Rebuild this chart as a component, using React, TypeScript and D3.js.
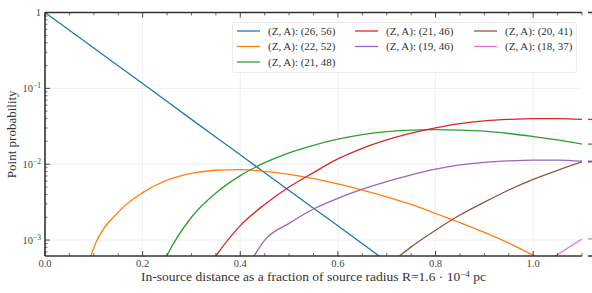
import React from "react";
import * as d3 from "d3";

const W = 592;
const H = 293;
const left = 45;
const right = 582;
const top = 12.5;
const bottom = 256;

// x positions (fraction of source radius) and point probabilities
const dist26_56 = [0, 0.1, 0.2, 0.3, 0.4, 0.5, 0.6, 0.7];
const prob26_56 = [1.0, 0.34, 0.116, 0.039, 0.0133, 0.0045, 0.00154, 0.00052];

const dist22_52 = [0.075, 0.1, 0.15, 0.2, 0.25, 0.3, 0.35, 0.4, 0.45, 0.5, 0.55, 0.6, 0.65, 0.7, 0.75, 0.8, 0.85, 0.9, 0.95, 1.0, 1.05];
const prob22_52 = [0.000251, 0.000794, 0.00234, 0.00422, 0.00617, 0.00759, 0.00832, 0.00851, 0.00804, 0.00733, 0.00646, 0.0055, 0.00457, 0.00372, 0.00295, 0.00224, 0.0017, 0.00126, 0.000912, 0.000631, 0.000427];

const dist21_48 = [0.225, 0.25, 0.3, 0.35, 0.4, 0.45, 0.5, 0.55, 0.6, 0.65, 0.7, 0.75, 0.8, 0.85, 0.9, 0.95, 1.0, 1.05, 1.1];
const prob21_48 = [0.000282, 0.000631, 0.002, 0.00417, 0.00708, 0.01047, 0.01413, 0.01778, 0.02138, 0.02455, 0.02692, 0.02818, 0.02851, 0.02818, 0.02723, 0.02541, 0.02317, 0.02089, 0.01841];

const dist21_46 = [0.325, 0.35, 0.4, 0.45, 0.5, 0.55, 0.6, 0.65, 0.7, 0.75, 0.8, 0.85, 0.9, 0.95, 1.0, 1.05, 1.1];
const prob21_46 = [0.000355, 0.000617, 0.00155, 0.00295, 0.00501, 0.00776, 0.01175, 0.0162, 0.0209, 0.0257, 0.0302, 0.0343, 0.0372, 0.0389, 0.0398, 0.0398, 0.0389];

const dist19_46 = [0.4, 0.45, 0.5, 0.55, 0.6, 0.65, 0.7, 0.75, 0.8, 0.85, 0.9, 0.95, 1.0, 1.05, 1.1];
const prob19_46 = [0.000282, 0.001, 0.00166, 0.00257, 0.00355, 0.00468, 0.00589, 0.00724, 0.00861, 0.00977, 0.01059, 0.01109, 0.01135, 0.01135, 0.01096];

const dist20_41 = [0.7, 0.75, 0.8, 0.85, 0.9, 0.95, 1.0, 1.05, 1.1];
const prob20_41 = [0.000447, 0.000813, 0.00135, 0.00214, 0.00316, 0.00457, 0.00631, 0.00832, 0.01072];

const dist18_37 = [1.0, 1.05, 1.1];
const prob18_37 = [0.000398, 0.000646, 0.001035];

const labels = [
  "(Z, A): (26, 56)",
  "(Z, A): (22, 52)",
  "(Z, A): (21, 48)",
  "(Z, A): (21, 46)",
  "(Z, A): (19, 46)",
  "(Z, A): (20, 41)",
  "(Z, A): (18, 37)",
];
const colors = ["#1f77b4", "#ff7f0e", "#2ca02c", "#d62728", "#9467bd", "#8c564b", "#e377c2"];
const dists = [dist26_56, dist22_52, dist21_48, dist21_46, dist19_46, dist20_41, dist18_37];
const probs = [prob26_56, prob22_52, prob21_48, prob21_46, prob19_46, prob20_41, prob18_37];

const xTicks = [0, 0.2, 0.4, 0.6, 0.8, 1.0];
const xTickLabels = ["0.0", "0.2", "0.4", "0.6", "0.8", "1.0"];
const yTicks = [1, 0.1, 0.01, 0.001];
const yTickExps = ["", "−1", "−2", "−3"];

const font = "'Liberation Serif', 'DejaVu Serif', serif";
const axisColor = "#333";

// legend is filled column by column: 3 + 2 + 2
const legendCol = [0, 0, 0, 1, 1, 2, 2];
const legendRow = [0, 1, 2, 0, 1, 0, 1];

export default function App() {
  const x = d3.scaleLinear().domain([0, 1.1]).range([left, right]);
  const y = d3.scaleLog().domain([Math.pow(10, -3.21), 1]).range([bottom, top]);

  const line = d3
    .line<[number, number]>()
    .x((d) => x(d[0]))
    .y((d) => y(d[1]))
    .curve(d3.curveMonotoneX);

  const xMinor = d3.range(0, 1.1001, 0.05).filter((v) => xTicks.every((t) => Math.abs(t - v) > 1e-6));
  const yMinor: number[] = [];
  [0.0001, 0.001, 0.01, 0.1].forEach((dec) => {
    for (let k = 2; k <= 9; k++) {
      const v = dec * k;
      if (v >= Math.pow(10, -3.21) && v <= 1) yMinor.push(v);
    }
  });

  const legendX = [237, 355, 474];
  const legendY = [31, 46.5, 62];

  return (
    <svg width={W} height={H} style={{ position: "absolute", left: 0, top: 0 }} fontFamily={font}>
      <defs>
        <clipPath id="plot">
          <rect x={left} y={top} width={right - left} height={bottom - top} />
        </clipPath>
      </defs>
      <rect width={W} height={H} fill="#fff" />

      {/* grid */}
      {xTicks.slice(1).map((t) => (
        <line key={"gx" + t} x1={x(t)} x2={x(t)} y1={top} y2={bottom} stroke="#ebebeb" strokeWidth={0.8} />
      ))}
      {yTicks.slice(1).map((t) => (
        <line key={"gy" + t} x1={left} x2={right} y1={y(t)} y2={y(t)} stroke="#ebebeb" strokeWidth={0.8} />
      ))}

      {/* series */}
      <g clipPath="url(#plot)">
        {dists.map((ds, i) => (
          <path
            key={"s" + i}
            d={line(ds.map((d, j) => [d, probs[i][j]] as [number, number])) || ""}
            fill="none"
            stroke={colors[i]}
            strokeWidth={1.3}
          />
        ))}
      </g>

      {/* marks beyond right edge */}
      {probs.map((p, i) => {
        const last = p[p.length - 1];
        const ds = dists[i];
        if (ds[ds.length - 1] < 1.1 || last < Math.pow(10, -3.21)) return null;
        return <line key={"m" + i} x1={588} x2={592} y1={y(last)} y2={y(last)} stroke={colors[i]} strokeWidth={1.3} />;
      })}
      <line x1={588} x2={592} y1={top} y2={top} stroke={axisColor} strokeWidth={1.5} />
      <line x1={588} x2={592} y1={bottom} y2={bottom} stroke={axisColor} strokeWidth={1.5} />

      {/* spines */}
      <line x1={left} x2={right} y1={bottom} y2={bottom} stroke={axisColor} strokeWidth={1.6} />
      <line x1={left} x2={right} y1={top} y2={top} stroke={axisColor} strokeWidth={1.6} />
      <line x1={left} x2={left} y1={top} y2={bottom} stroke={axisColor} strokeWidth={1.6} />

      {/* x ticks */}
      {xTicks.map((t, i) => (
        <g key={"xt" + t}>
          <line x1={x(t)} x2={x(t)} y1={bottom} y2={bottom - 5} stroke={axisColor} strokeWidth={0.9} />
          <line x1={x(t)} x2={x(t)} y1={top} y2={top + 5} stroke={axisColor} strokeWidth={0.9} />
          <text x={x(t)} y={bottom + 11} textAnchor="middle" fontSize={10.5} fill="#444">
            {xTickLabels[i]}
          </text>
        </g>
      ))}
      {xMinor.map((t) => (
        <g key={"xm" + t}>
          <line x1={x(t)} x2={x(t)} y1={bottom} y2={bottom - 3} stroke={axisColor} strokeWidth={0.7} />
          <line x1={x(t)} x2={x(t)} y1={top} y2={top + 3} stroke={axisColor} strokeWidth={0.7} />
        </g>
      ))}

      {/* y ticks */}
      {yTicks.map((t, i) => (
        <g key={"yt" + t}>
          <line x1={left} x2={left + 5} y1={y(t)} y2={y(t)} stroke={axisColor} strokeWidth={0.9} />
          {i === 0 ? (
            <text x={left - 4} y={y(t) + 3.5} textAnchor="end" fontSize={10.5} fill="#444">
              1
            </text>
          ) : (
            <text x={left - 4} y={y(t) + 3.5} textAnchor="end" fontSize={10.5} fill="#444">
              10
              <tspan dy={-4} fontSize={7.5}>
                {yTickExps[i]}
              </tspan>
            </text>
          )}
        </g>
      ))}
      {yMinor.map((t) => (
        <line key={"ym" + t} x1={left} x2={left + 2.5} y1={y(t)} y2={y(t)} stroke={axisColor} strokeWidth={0.7} />
      ))}

      {/* axis titles */}
      <text x={(left + right) / 2} y={281} textAnchor="middle" fontSize={13.5} fill="#333">
        In-source distance as a fraction of source radius R=1.6 · 10
        <tspan dy={-4.5} fontSize={9}>
          −4
        </tspan>
        <tspan dy={4.5}> pc</tspan>
      </text>
      <text
        transform={`translate(16, ${(top + bottom) / 2}) rotate(-90)`}
        textAnchor="middle"
        fontSize={13}
        fill="#333"
      >
        Point probability
      </text>

      {/* legend */}
      <rect x={232.5} y={22.5} width={344} height={50} rx={2} fill="#fff" fillOpacity={0.85} stroke="#e6e6e6" strokeWidth={0.8} />
      {labels.map((lab, i) => {
        const cx = legendX[legendCol[i]];
        const cy = legendY[legendRow[i]];
        return (
          <g key={"lg" + i}>
            <line x1={cx} x2={cx + 23} y1={cy} y2={cy} stroke={colors[i]} strokeWidth={1.3} />
            <text x={cx + 31} y={cy + 3.5} fontSize={11} fill="#333">
              {lab}
            </text>
          </g>
        );
      })}
    </svg>
  );
}
